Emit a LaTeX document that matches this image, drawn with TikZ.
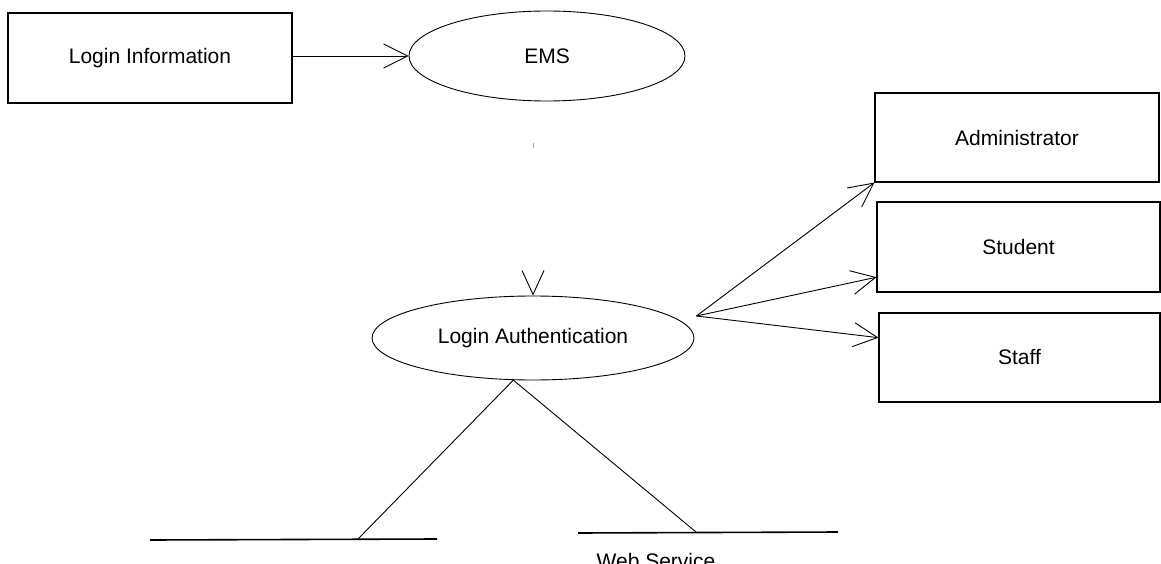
\documentclass[tikz,border=0pt]{standalone}
\usepackage{fontspec}
\setmainfont{Liberation Sans}
\usetikzlibrary{shapes.geometric,arrows.meta}
\begin{document}
\begin{tikzpicture}[x=1pt,y=-1pt,
  every node/.style={font=\fontsize{21}{25}\selectfont},
  entity/.style={draw, line width=1.1pt, rectangle, inner sep=0pt, minimum height=90pt},
  usecase/.style={draw, line width=0.9pt, ellipse, inner sep=0pt},
  flow/.style={line width=0.9pt, -{Straight Barb[length=24pt,width=24pt,line width=0.9pt]}},
  link/.style={line width=0.9pt},
  store/.style={line width=1.6pt}]
  % page frame
  \clip (0,0) rectangle (1161,564);
  \fill[white] (0,0) rectangle (1161,564);

  % actors / entities
  \node[entity, minimum width=284pt] (login) at (150,58) {Login Information};
  \node[entity, minimum width=284pt, minimum height=89pt] (admin) at (1017,137.5) {Administrator};
  \node[entity, minimum width=283pt] (student) at (1018.5,247) {Student};
  \node[entity, minimum width=281pt, minimum height=89pt] (staff) at (1019.5,357.5) {Staff};

  % processes
  \node[usecase, minimum width=276pt, minimum height=90pt] (ems) at (547,56) {EMS};
  \node[usecase, minimum width=322pt, minimum height=84pt] (lauth) at (533,338) {Login Authentication};

  % data store bars
  \coordinate (s1l) at (150,540);
  \coordinate (s1r) at (437,539);
  \coordinate (s1m) at (358,539);
  \coordinate (s2l) at (578,533);
  \coordinate (s2r) at (838,532);
  \coordinate (s2m) at (696,532);
  \draw[store] (s1l) -- (s1r);
  \draw[store] (s2l) -- (s2r);
  \node[anchor=base] (ws) at (656,568) {Web Service};

  % flows
  \draw[flow] (login.east |- ems.west) -- (ems.west);
  \draw[flow, draw=black!35, dash pattern=on 0pt off 42pt on 5pt off 600pt,
        -{Straight Barb[length=24pt,width=22pt,line width=0.9pt,color=black]}]
        (lauth.north |- ems.south) -- (lauth.north);
  \coordinate (fan) at ([xshift=2pt,yshift=22pt]lauth.east);
  \draw[flow] (fan) -- (admin.south west);
  \draw[flow] (fan) -- (student.192);
  \draw[flow] (fan) -- (staff.172);
  \draw[link] (lauth.245) -- (s1m);
  \draw[link] (lauth.245) -- (s2m);
\end{tikzpicture}
\end{document}
